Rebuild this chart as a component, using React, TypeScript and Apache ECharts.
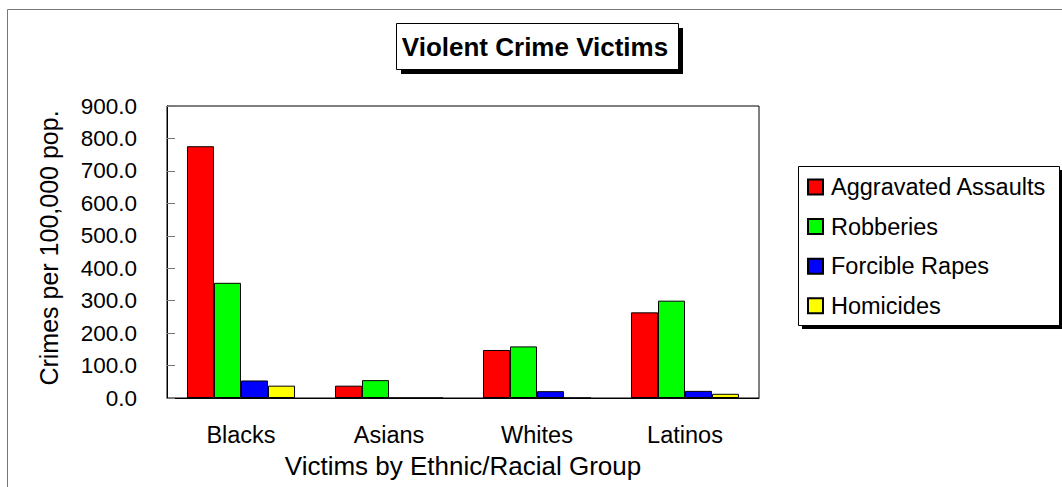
import React, { useEffect, useRef } from "react";
import * as echarts from "echarts";

const categories = ["Blacks", "Asians", "Whites", "Latinos"];
const seriesNames = ["Aggravated Assaults", "Robberies", "Forcible Rapes", "Homicides"];
const assaults = [776, 38, 148, 264];
const robberies = [355, 55, 159, 300];
const rapes = [54, 0, 21, 22];
const homicides = [38, 0, 0, 13];
const seriesColors = ["#ff0000", "#00ff00", "#0000ff", "#ffff00"];

const FONT = "Liberation Sans, Arial, sans-serif";

export default function App() {
  const ref = useRef<HTMLDivElement>(null);

  useEffect(() => {
    document.body.style.margin = "0";
    const chart = echarts.init(ref.current!, null, { renderer: "svg" });
    const values = [assaults, robberies, rapes, homicides];

    chart.setOption({
      animation: false,
      backgroundColor: "#ffffff",
      textStyle: { fontFamily: FONT, color: "#000" },
      graphic: [
        // outer chart frame
        {
          type: "rect",
          z: -10,
          shape: { x: 7.5, y: 9.5, width: 1060, height: 490 },
          style: { fill: "#fff", stroke: "#777", lineWidth: 1 },
        },
        // title box with drop shadow
        {
          type: "rect",
          z: 0,
          shape: { x: 401, y: 28, width: 282, height: 46 },
          style: { fill: "#000" },
        },
        {
          type: "rect",
          z: 1,
          shape: { x: 396.5, y: 23.5, width: 282, height: 46 },
          style: { fill: "#fff", stroke: "#000", lineWidth: 1 },
        },
        {
          type: "text",
          z: 2,
          x: 535,
          y: 46.5,
          style: {
            text: "Violent Crime Victims",
            font: "bold 26px " + FONT,
            fill: "#000",
            align: "center",
            verticalAlign: "middle",
          },
        },
        // legend box with drop shadow
        {
          type: "rect",
          z: 0,
          shape: { x: 802, y: 170, width: 261, height: 159 },
          style: { fill: "#000" },
        },
        {
          type: "rect",
          z: 1,
          shape: { x: 798.5, y: 166.5, width: 261, height: 159 },
          style: { fill: "#fff", stroke: "#000", lineWidth: 1 },
        },
      ],
      legend: {
        orient: "vertical",
        left: 802,
        top: 170,
        z: 5,
        itemWidth: 15,
        itemHeight: 15,
        itemGap: 15.6,
        icon: "rect",
        data: seriesNames,
        textStyle: { fontFamily: FONT, fontSize: 23.5, color: "#000", lineHeight: 24, padding: [0, 0, 0, 3] },
      },
      grid: { left: 167, top: 106, right: 303, bottom: 89, show: true, borderColor: "#000", borderWidth: 1 },
      xAxis: {
        type: "category",
        data: categories,
        name: "Victims by Ethnic/Racial Group",
        nameLocation: "middle",
        nameGap: 55,
        nameTextStyle: { fontFamily: FONT, fontSize: 26, color: "#000" },
        axisLine: { lineStyle: { color: "#000", width: 1 } },
        axisTick: { inside: true, length: 5, lineStyle: { color: "#555" } },
        axisLabel: { fontFamily: FONT, fontSize: 23.5, color: "#000", margin: 25 },
      },
      yAxis: {
        type: "value",
        min: 0,
        max: 900,
        interval: 100,
        name: "Crimes per 100,000 pop.",
        nameLocation: "middle",
        nameGap: 106,
        nameTextStyle: { fontFamily: FONT, fontSize: 25, color: "#000", padding: [0, 0, 0, 8] },
        axisLine: { show: true, lineStyle: { color: "#000", width: 1 } },
        axisTick: { show: true, inside: true, length: 8, lineStyle: { color: "#777" } },
        splitLine: { show: false },
        axisLabel: {
          fontFamily: FONT,
          fontSize: 22.5,
          color: "#000",
          margin: 30,
          formatter: (v: number) => v.toFixed(1),
        },
      },
      series: seriesNames.map((name, i) => ({
        name,
        type: "bar",
        data: values[i],
        barGap: "0%",
        barCategoryGap: "27%",
        itemStyle: { color: seriesColors[i], borderColor: "#000", borderWidth: 1 },
      })),
    });

    return () => chart.dispose();
  }, []);

  return <div ref={ref} style={{ width: 1062, height: 487 }} />;
}
